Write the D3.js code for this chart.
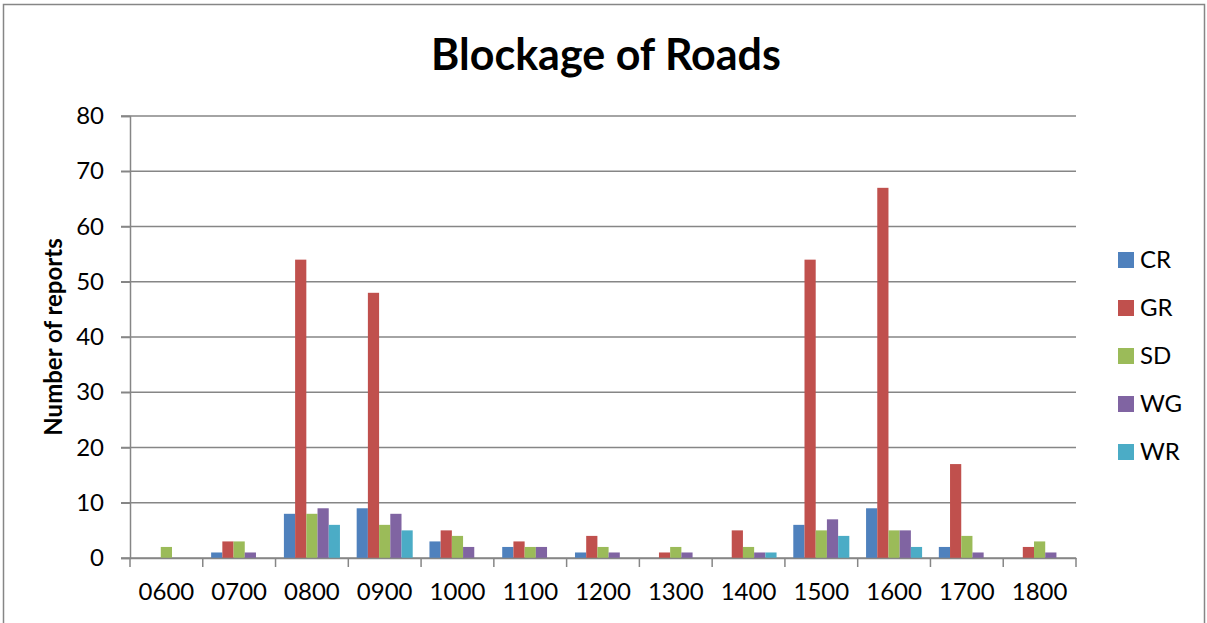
<!DOCTYPE html>
<html>
<head>
<meta charset="utf-8">
<script src="https://cdn.jsdelivr.net/npm/d3@7"></script>
<style>
  body { margin: 0; background: #fff; }
  text { font-family: Lato, "Open Sans", sans-serif; fill: #000; }
</style>
</head>
<body>
<svg width="1207" height="623"></svg>
<script>
var hours = ["0600", "0700", "0800", "0900", "1000", "1100", "1200",
             "1300", "1400", "1500", "1600", "1700", "1800"];
var seriesNames = ["CR", "GR", "SD", "WG", "WR"];
var CR = [0, 1, 8, 9, 3, 2, 1, 0, 0, 6, 9, 2, 0];
var GR = [0, 3, 54, 48, 5, 3, 4, 1, 5, 54, 67, 17, 2];
var SD = [2, 3, 8, 6, 4, 2, 2, 2, 2, 5, 5, 4, 3];
var WG = [0, 1, 9, 8, 2, 2, 1, 1, 1, 7, 5, 1, 1];
var WR = [0, 0, 6, 5, 0, 0, 0, 0, 1, 4, 2, 0, 0];
var yTicks = [0, 10, 20, 30, 40, 50, 60, 70, 80];
var colors = ["#4f81bd", "#c0504d", "#9bbb59", "#8064a2", "#4bacc6"];

var values = [CR, GR, SD, WG, WR];
var rows = hours.map(function(h, i) {
  var r = {hour: h};
  seriesNames.forEach(function(s, j) { r[s] = values[j][i]; });
  return r;
});

var svg = d3.select("svg"),
    width = +svg.attr("width"),
    height = +svg.attr("height");

// chart frame
svg.append("rect")
    .attr("x", 3.5).attr("y", 4.5)
    .attr("width", 1201).attr("height", 640)
    .attr("fill", "none")
    .attr("stroke", "#868686")
    .attr("stroke-width", 1.5);

var margin = {left: 130, right: 1076, top: 116, bottom: 558};

var x0 = d3.scaleBand()
    .domain(hours)
    .range([margin.left, margin.right])
    .paddingInner(0.23)
    .paddingOuter(0.115);

var band = d3.scaleBand()
    .domain(hours)
    .range([margin.left, margin.right]);

var x1 = d3.scaleBand()
    .domain(seriesNames)
    .range([0, x0.bandwidth()]);

var y = d3.scaleLinear()
    .domain([0, 80])
    .range([margin.bottom, margin.top]);

var color = d3.scaleOrdinal().domain(seriesNames).range(colors);

// gridlines
svg.append("g")
    .selectAll("line")
    .data(yTicks)
  .enter().append("line")
    .attr("x1", margin.left - 9)
    .attr("x2", margin.right)
    .attr("y1", function(d) { return y(d); })
    .attr("y2", function(d) { return y(d); })
    .attr("stroke", "#868686")
    .attr("stroke-width", 1.5);

// y axis
var yAxis = svg.append("g")
    .attr("transform", "translate(" + margin.left + ",0)")
    .call(d3.axisLeft(y).tickValues(yTicks).tickSize(9).tickPadding(17));
yAxis.selectAll("line").attr("stroke", "#868686").attr("stroke-width", 1.5);
yAxis.select(".domain").attr("stroke", "#868686").attr("stroke-width", 1.5);
yAxis.selectAll("text").attr("font-size", 24);

// bars
var groups = svg.append("g")
    .selectAll("g")
    .data(rows)
  .enter().append("g")
    .attr("transform", function(d) { return "translate(" + x0(d.hour) + ",0)"; });

groups.selectAll("rect")
    .data(function(d) { return seriesNames.map(function(s) { return {key: s, value: d[s]}; }); })
  .enter().append("rect")
    .attr("x", function(d) { return x1(d.key); })
    .attr("width", x1.bandwidth())
    .attr("y", function(d) { return y(d.value); })
    .attr("height", function(d) { return y(0) - y(d.value); })
    .attr("fill", function(d) { return color(d.key); });

// x axis
var xAxis = svg.append("g")
    .attr("transform", "translate(0," + margin.bottom + ")")
    .call(d3.axisBottom(band).tickSize(0).tickPadding(25));
xAxis.select(".domain").attr("stroke", "#868686").attr("stroke-width", 1.5);
xAxis.selectAll("text").attr("font-size", 24);

xAxis.selectAll(".sep")
    .data(hours.concat(["end"]))
  .enter().append("line")
    .attr("class", "sep")
    .attr("x1", function(d, i) { return margin.left + i * band.step(); })
    .attr("x2", function(d, i) { return margin.left + i * band.step(); })
    .attr("y1", 0).attr("y2", 9)
    .attr("stroke", "#868686")
    .attr("stroke-width", 1.5);

// title
svg.append("text")
    .attr("x", 606)
    .attr("y", 70)
    .attr("text-anchor", "middle")
    .attr("font-size", 43)
    .attr("font-weight", "bold")
    .text("Blockage of Roads");

svg.append("text")
    .attr("transform", "translate(62," + (margin.top + margin.bottom) / 2 + ") rotate(-90)")
    .attr("text-anchor", "middle")
    .attr("font-size", 24)
    .attr("font-weight", "bold")
    .text("Number of reports");

// legend
var legend = svg.append("g")
    .selectAll("g")
    .data(seriesNames)
  .enter().append("g")
    .attr("transform", function(d, i) { return "translate(1118," + (252 + i * 48) + ")"; });

legend.append("rect")
    .attr("width", 16).attr("height", 16)
    .attr("fill", function(d) { return color(d); });

legend.append("text")
    .attr("x", 22)
    .attr("y", 8)
    .attr("dy", "0.35em")
    .attr("font-size", 24)
    .text(function(d) { return d; });
</script>
</body>
</html>
